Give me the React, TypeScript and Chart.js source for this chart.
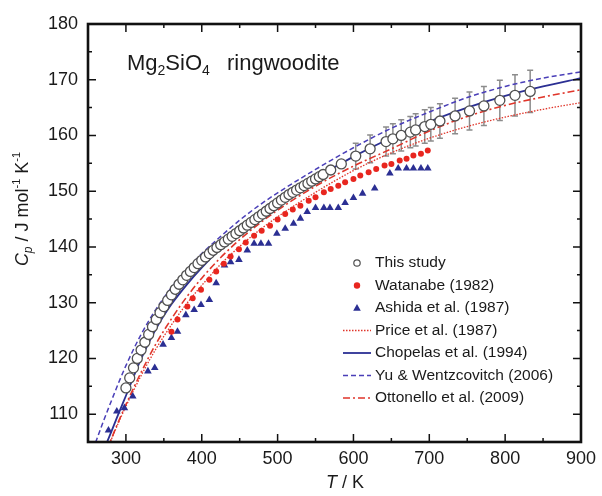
import React, { useEffect, useRef } from "react";
import { Chart, registerables } from "chart.js";
Chart.register(...registerables);

// ---------- axes ----------
const xMin = 250;
const xMax = 900;
const yMin = 105;
const yMax = 180;
const xTicks = [300, 400, 500, 600, 700, 800, 900];
const xMinorTicks = [250, 350, 450, 550, 650, 750, 850];
const yTicks = [110, 120, 130, 140, 150, 160, 170, 180];
const yMinorTicks = [105, 115, 125, 135, 145, 155, 165, 175];

// ---------- This study (open circles, with error bars at high T) ----------
const thisStudyT = [
  300, 305, 310, 315, 320, 325, 330, 335, 340, 345, 350, 355, 360, 365, 370, 375, 380, 385, 390, 395,
  400, 405, 410, 415, 420, 425, 430, 435, 440, 445, 450, 455, 460, 465, 470, 475, 480, 485, 490, 495,
  500, 505, 510, 515, 520, 525, 530, 535, 540, 545, 550, 555, 560,
  570, 584, 603, 622, 643, 652, 663, 675, 682, 694, 702, 714, 734, 753, 772, 793, 813, 833,
];
const thisStudyCp = [
  114.7, 116.5, 118.3, 120.0, 121.5, 122.9, 124.3, 125.7, 127.0, 128.2, 129.3, 130.4, 131.4, 132.4, 133.3, 134.1, 134.9, 135.6, 136.3, 137.0,
  137.6, 138.2, 138.8, 139.4, 139.9, 140.4, 140.9, 141.4, 141.9, 142.4, 142.9, 143.4, 143.9, 144.4, 144.9, 145.4, 145.9, 146.4, 146.9, 147.4,
  147.9, 148.4, 148.9, 149.4, 149.8, 150.2, 150.6, 151.0, 151.4, 151.8, 152.2, 152.6, 153.0,
  153.8, 154.9, 156.3, 157.6, 158.9, 159.4, 160.0, 160.6, 161.0, 161.6, 162.0, 162.6, 163.5, 164.4, 165.3, 166.3, 167.2, 167.9,
];
const thisStudyErr = [
  0, 0, 0, 0, 0, 0, 0, 0, 0, 0, 0, 0, 0, 0, 0, 0, 0, 0, 0, 0,
  0, 0, 0, 0, 0, 0, 0, 0, 0, 0, 0, 0, 0, 0, 0, 0, 0, 0, 0, 0,
  0, 0, 0, 0, 0, 0, 0, 0, 0, 0, 0, 0, 0,
  0, 0, 2.3, 2.5, 2.6, 2.7, 2.8, 2.8, 2.9, 3.0, 3.0, 3.1, 3.2, 3.4, 3.5, 3.6, 3.7, 3.8,
];

// ---------- Watanabe (1982) ----------
const watanabeT = [
  360, 368, 381, 388, 399, 410, 419, 429, 438, 449, 458, 469, 479, 490, 500, 510, 520, 530,
  541, 550, 561, 570, 580, 589, 600, 609, 620, 630, 641, 650, 661, 670, 679, 689, 698,
];
const watanabeCp = [
  124.8, 127.0, 129.3, 130.8, 132.3, 134.1, 135.6, 137.0, 138.3, 139.6, 140.8, 142.0, 142.9, 143.8, 144.9, 145.9, 146.7, 147.4,
  148.3, 148.9, 149.8, 150.4, 151.0, 151.6, 152.2, 152.8, 153.4, 154.0, 154.6, 154.9, 155.5, 155.8, 156.4, 156.7, 157.3,
];

// ---------- Ashida et al. (1987) ----------
const ashidaT = [
  277, 288, 298, 309, 329, 338, 349, 360, 368, 379, 390, 399, 410, 419, 430, 438, 449, 460, 469, 478,
  488, 499, 510, 521, 530, 539, 550, 561, 569, 580, 589, 600, 612, 628, 648, 659, 670, 679, 689, 698,
];
const ashidaCp = [
  107.1, 110.5, 111.1, 113.2, 117.7, 118.3, 122.5, 123.7, 124.8, 127.8, 128.7, 129.6, 130.5, 133.5, 136.7, 137.3, 137.7, 139.4, 140.6, 140.6,
  140.6, 142.4, 143.3, 144.2, 145.1, 146.3, 147.0, 147.0, 147.0, 147.0, 147.9, 148.8, 149.6, 150.5, 153.2, 154.1, 154.1, 154.1, 154.1, 154.1,
];

// ---------- model curves ----------
const curveT = [260, 270, 280, 290, 300, 320, 340, 360, 380, 400, 425, 450, 475, 500, 550, 600, 650, 700, 750, 800, 850, 900];
const priceCp = [98.0, 101.8, 105.2, 108.4, 111.4, 116.9, 121.8, 126.0, 129.8, 133.1, 136.9, 140.1, 142.9, 145.4, 149.8, 153.7, 156.9, 159.5, 161.6, 163.3, 164.7, 165.9];
const chopelasCp = [100.0, 103.3, 106.6, 110.0, 113.3, 119.9, 125.4, 129.7, 133.2, 136.3, 139.7, 142.7, 145.4, 147.9, 152.3, 156.2, 159.6, 162.5, 165.0, 167.1, 168.8, 170.3];
const yuCp = [104.9, 108.6, 112.1, 115.5, 118.7, 124.3, 128.9, 132.7, 135.9, 138.8, 141.9, 144.8, 147.4, 149.7, 153.9, 157.8, 161.3, 164.2, 166.8, 168.8, 170.3, 171.4];
const ottonelloCp = [98.5, 102.0, 105.3, 108.6, 111.7, 117.5, 122.7, 127.1, 131.0, 134.4, 138.1, 141.3, 144.1, 146.6, 150.9, 154.5, 157.6, 160.8, 163.4, 165.4, 166.9, 168.2];

const legendLabels = [
  "This study",
  "Watanabe (1982)",
  "Ashida et al. (1987)",
  "Price et al. (1987)",
  "Chopelas et al. (1994)",
  "Yu & Wentzcovitch (2006)",
  "Ottonello et al. (2009)",
];

const FONT = '"Liberation Sans", Arial, Helvetica, sans-serif';
const RED = "#e8261f";
const RED_LINE = "#e0352a";
const BLUE = "#2b2f93";
const BLUE_DASH = "#4a3fb8";
const GREY = "#505050";

type Run = { t: string; size: number; italic?: boolean; dy?: number };

function runsWidth(ctx: CanvasRenderingContext2D, runs: Run[]) {
  let w = 0;
  for (const r of runs) {
    ctx.font = `${r.italic ? "italic " : ""}${r.size}px ${FONT}`;
    w += ctx.measureText(r.t).width;
  }
  return w;
}
function drawRuns(ctx: CanvasRenderingContext2D, runs: Run[], x: number, y: number) {
  let cx = x;
  for (const r of runs) {
    ctx.font = `${r.italic ? "italic " : ""}${r.size}px ${FONT}`;
    ctx.fillText(r.t, cx, y + (r.dy || 0));
    cx += ctx.measureText(r.t).width;
  }
  return cx;
}

const errorBarPlugin = {
  id: "errorBars",
  beforeDatasetsDraw(chart: any) {
    const { ctx, scales } = chart;
    const xs = scales.x;
    const ys = scales.y;
    ctx.save();
    ctx.strokeStyle = "#8c8c8c";
    ctx.lineWidth = 1.5;
    thisStudyT.forEach((t, i) => {
      const e = thisStudyErr[i];
      if (!e) return;
      const px = xs.getPixelForValue(t);
      const y1 = ys.getPixelForValue(thisStudyCp[i] + e);
      const y2 = ys.getPixelForValue(thisStudyCp[i] - e);
      ctx.beginPath();
      ctx.moveTo(px, y1);
      ctx.lineTo(px, y2);
      ctx.moveTo(px - 3, y1);
      ctx.lineTo(px + 3, y1);
      ctx.moveTo(px - 3, y2);
      ctx.lineTo(px + 3, y2);
      ctx.stroke();
    });
    ctx.restore();
  },
};

const framePlugin = {
  id: "frame",
  afterDraw(chart: any) {
    const { ctx, chartArea: a, scales } = chart;
    const xs = scales.x;
    const ys = scales.y;
    ctx.save();
    ctx.strokeStyle = "#111";
    ctx.lineWidth = 1.5;
    ctx.beginPath();
    const tickX = (v: number, len: number) => {
      const p = xs.getPixelForValue(v);
      ctx.moveTo(p, a.bottom);
      ctx.lineTo(p, a.bottom - len);
      ctx.moveTo(p, a.top);
      ctx.lineTo(p, a.top + len);
    };
    const tickY = (v: number, len: number) => {
      const p = ys.getPixelForValue(v);
      ctx.moveTo(a.left, p);
      ctx.lineTo(a.left + len, p);
      ctx.moveTo(a.right, p);
      ctx.lineTo(a.right - len, p);
    };
    xTicks.forEach((v) => tickX(v, 8));
    xMinorTicks.forEach((v) => tickX(v, 4));
    yTicks.forEach((v) => tickY(v, 8));
    yMinorTicks.forEach((v) => tickY(v, 4));
    ctx.stroke();
    ctx.lineWidth = 2.6;
    ctx.strokeRect(a.left, a.top, a.right - a.left, a.bottom - a.top);
    ctx.restore();
  },
};

const textPlugin = {
  id: "texts",
  afterDraw(chart: any) {
    const { ctx } = chart;
    ctx.save();
    ctx.fillStyle = "#1a1a1a";
    ctx.textBaseline = "alphabetic";
    ctx.textAlign = "left";

    // title
    drawRuns(
      ctx,
      [
        { t: "Mg", size: 22 },
        { t: "2", size: 14, dy: 5 },
        { t: "SiO", size: 22 },
        { t: "4", size: 14, dy: 5 },
      ],
      127,
      70
    );
    drawRuns(ctx, [{ t: "ringwoodite", size: 22 }], 227, 70);

    // x title
    const xRuns: Run[] = [{ t: "T", size: 18, italic: true }, { t: " / K", size: 18 }];
    const xw = runsWidth(ctx, xRuns);
    drawRuns(ctx, xRuns, 345 - xw / 2, 488);

    // y title
    const yRuns: Run[] = [
      { t: "C", size: 18, italic: true },
      { t: "p", size: 12, italic: true, dy: 4 },
      { t: " / J mol", size: 18 },
      { t: "-1", size: 11, dy: -8 },
      { t: " K", size: 18 },
      { t: "-1", size: 11, dy: -8 },
    ];
    const w = runsWidth(ctx, yRuns);
    ctx.save();
    ctx.translate(28, 209);
    ctx.rotate(-Math.PI / 2);
    drawRuns(ctx, yRuns, -w / 2, 0);
    ctx.restore();

    // legend
    const rowY = [263, 285.5, 308, 330.5, 353, 375.5, 398];
    const mx = 357;
    const l0 = 343;
    const l1 = 371;
    ctx.textBaseline = "middle";
    legendLabels.forEach((lab, i) => {
      const y = rowY[i];
      ctx.save();
      if (i === 0) {
        ctx.strokeStyle = GREY;
        ctx.fillStyle = "#fff";
        ctx.lineWidth = 1.2;
        ctx.beginPath();
        ctx.arc(mx, y, 3.2, 0, Math.PI * 2);
        ctx.fill();
        ctx.stroke();
      } else if (i === 1) {
        ctx.fillStyle = RED;
        ctx.beginPath();
        ctx.arc(mx, y, 3.2, 0, Math.PI * 2);
        ctx.fill();
      } else if (i === 2) {
        ctx.fillStyle = BLUE;
        ctx.beginPath();
        ctx.moveTo(mx, y - 4);
        ctx.lineTo(mx + 3.8, y + 2.8);
        ctx.lineTo(mx - 3.8, y + 2.8);
        ctx.closePath();
        ctx.fill();
      } else {
        const styles: any[] = [
          null,
          null,
          null,
          { c: RED_LINE, d: [1.5, 1.5], w: 1.3 },
          { c: BLUE, d: [], w: 1.8 },
          { c: BLUE_DASH, d: [5, 3], w: 1.5 },
          { c: RED_LINE, d: [7, 3, 2, 3], w: 1.6 },
        ];
        const s = styles[i];
        ctx.strokeStyle = s.c;
        ctx.lineWidth = s.w;
        ctx.setLineDash(s.d);
        ctx.beginPath();
        ctx.moveTo(l0, y);
        ctx.lineTo(l1, y);
        ctx.stroke();
      }
      ctx.restore();
      ctx.fillStyle = "#1a1a1a";
      ctx.font = `15.5px ${FONT}`;
      ctx.fillText(lab, 375, y);
    });
    ctx.restore();
  },
};

const whiteBg = {
  id: "whiteBg",
  beforeDraw(chart: any) {
    const { ctx, width, height } = chart;
    ctx.save();
    ctx.fillStyle = "#ffffff";
    ctx.fillRect(0, 0, width, height);
    ctx.restore();
  },
};

const toXY = (xs: number[], ys: number[]) => xs.map((x, i) => ({ x, y: ys[i] }));

export default function App() {
  const ref = useRef<HTMLCanvasElement>(null);
  useEffect(() => {
    document.body.style.margin = "0";
    const canvas = ref.current!;
    const lineDs = (label: string, ys: number[], color: string, dash: number[], width: number, order: number) => ({
      label,
      data: toXY(curveT, ys),
      showLine: true,
      pointRadius: 0,
      borderColor: color,
      backgroundColor: color,
      borderWidth: width,
      borderDash: dash,
      cubicInterpolationMode: "monotone" as const,
      order,
    });
    const chart = new Chart(canvas, {
      type: "scatter",
      data: {
        datasets: [
          {
            label: legendLabels[0],
            data: toXY(thisStudyT, thisStudyCp),
            pointStyle: "circle",
            pointRadius: 5,
            pointBorderWidth: 1.3,
            pointBackgroundColor: "#ffffff",
            pointBorderColor: GREY,
            order: 0,
          },
          {
            label: legendLabels[1],
            data: toXY(watanabeT, watanabeCp),
            pointStyle: "circle",
            pointRadius: 3,
            pointBorderWidth: 0,
            pointBackgroundColor: RED,
            pointBorderColor: RED,
            order: 1,
          },
          {
            label: legendLabels[2],
            data: toXY(ashidaT, ashidaCp),
            pointStyle: "triangle",
            pointRadius: 4.4,
            pointBorderWidth: 0,
            pointBackgroundColor: BLUE,
            pointBorderColor: BLUE,
            order: 2,
          },
          lineDs(legendLabels[3], priceCp, RED_LINE, [1.5, 1.5], 1.3, 6),
          lineDs(legendLabels[4], chopelasCp, BLUE, [], 1.8, 3),
          lineDs(legendLabels[5], yuCp, BLUE_DASH, [5, 3], 1.5, 4),
          lineDs(legendLabels[6], ottonelloCp, RED_LINE, [7, 3, 2, 3], 1.6, 5),
        ] as any,
      },
      options: {
        responsive: false,
        animation: false,
        layout: { padding: { top: 24, right: 18, left: 0, bottom: 0 } },
        plugins: { legend: { display: false }, tooltip: { enabled: false } },
        scales: {
          x: {
            type: "linear",
            min: xMin,
            max: xMax,
            grid: { display: false, drawTicks: false },
            border: { display: false },
            afterBuildTicks: (s: any) => {
              s.ticks = xTicks.map((v) => ({ value: v }));
            },
            afterFit: (s: any) => {
              s.height = 54;
            },
            ticks: { font: { family: FONT, size: 18 }, color: "#1a1a1a", padding: 6, maxRotation: 0, autoSkip: false },
          },
          y: {
            type: "linear",
            min: yMin,
            max: yMax,
            grid: { display: false, drawTicks: false },
            border: { display: false },
            afterBuildTicks: (s: any) => {
              s.ticks = yTicks.map((v) => ({ value: v }));
            },
            afterFit: (s: any) => {
              s.width = 88;
            },
            ticks: { font: { family: FONT, size: 18 }, color: "#1a1a1a", padding: 10, autoSkip: false },
          },
        },
      } as any,
      plugins: [whiteBg, errorBarPlugin, framePlugin, textPlugin],
    });
    return () => chart.destroy();
  }, []);
  return <canvas ref={ref} width={602} height={496} style={{ display: "block" }} />;
}
